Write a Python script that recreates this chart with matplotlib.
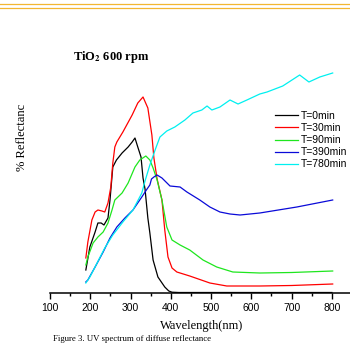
import matplotlib
matplotlib.use('Agg')
import matplotlib.pyplot as plt
from matplotlib.lines import Line2D

# wavelength (nm) / relative reflectance
wl_0 = [189, 199, 212, 219, 227, 234, 244, 249, 256, 265, 279, 294, 304, 311, 318, 326, 331,
        336, 343, 348, 356, 368, 385, 395, 403, 420, 500, 600, 700, 800]
r_0 = [23, 46, 61, 70, 70, 68, 75, 93, 126, 133, 140, 146, 151, 155, 146, 136, 115,
       104, 75, 60, 33, 16, 6, 2, 0.8, 0.5, 0.5, 0.5, 0.5, 0.5]

wl_30 = [189, 194, 204, 212, 219, 229, 236, 244, 251, 256, 261, 266, 281, 304, 318, 331, 343,
         353, 358, 366, 378, 385, 393, 403, 415, 447, 497, 539, 621, 700, 802]
r_30 = [35, 51, 73, 81, 83, 82, 81, 90, 106, 130, 146, 151, 161, 178, 190, 196, 185,
        158, 135, 114, 93, 63, 36, 25, 21, 17, 10, 7, 7, 7.5, 9]

wl_90 = [189, 194, 207, 219, 232, 244, 254, 261, 279, 294, 311, 323, 338, 348, 356, 366, 378,
         390, 403, 423, 447, 480, 514, 554, 621, 700, 802]
r_90 = [28, 36, 50, 56, 61, 70, 83, 93, 100, 110, 126, 133, 137, 133, 125, 113, 93,
        66, 53, 48, 43, 33, 26, 21, 20, 20.5, 22]

wl_390 = [189, 194, 212, 232, 249, 266, 286, 306, 328, 341, 348, 352, 358, 366, 378, 398,
          423, 440, 472, 497, 522, 547, 572, 621, 713, 802]
r_390 = [11, 13, 26, 41, 55, 66, 75, 83, 96, 104, 108, 114, 116, 118, 115, 107,
         106, 101, 93, 86, 81, 79, 78, 80, 86, 93]

wl_780 = [189, 199, 217, 236, 256, 281, 306, 328, 336, 348, 361, 373, 390, 410, 435, 455,
          477, 490, 502, 522, 547, 567, 589, 621, 639, 678, 720, 743, 770, 802]
r_780 = [10, 16, 30, 45, 58, 71, 83, 100, 112, 128, 143, 156, 162, 166, 173, 180,
         183, 187, 183, 186, 193, 189, 193, 199, 201, 207, 218, 211, 216, 220]

series = [
    (wl_0, r_0, 'black', 'T=0min'),
    (wl_30, r_30, '#ff0000', 'T=30min'),
    (wl_90, r_90, '#1ee61e', 'T=90min'),
    (wl_390, r_390, '#0a0ad8', 'T=390min'),
    (wl_780, r_780, '#00f0f0', 'T=780min'),
]

fig = plt.figure(figsize=(3.5, 3.45), dpi=100)
fig.patch.set_facecolor('white')

# two thin gold rules at the top of the page
for yy in (3.5, 7.5):
    fig.add_artist(Line2D([0, 1], [1 - yy / 345, 1 - yy / 345], transform=fig.transFigure,
                          color='#f2b632', lw=0.9))

ax = fig.add_axes([50 / 350, 1 - 293 / 345, 300 / 350, 233 / 345])
for wl, r, c, lab in series:
    ax.plot(wl, r, color=c, lw=0.9, label=lab)

ax.set_xlim(100, 845)
ax.set_ylim(0, 233)
for s in ('top', 'right', 'left'):
    ax.spines[s].set_visible(False)
ax.spines['bottom'].set_linewidth(1.1)
ax.set_yticks([])
ax.set_xticks(range(100, 801, 100))
ax.set_xticks(range(150, 850, 100), minor=True)
ax.tick_params(axis='x', which='major', length=4, width=1, pad=3, labelsize=7.5)
ax.tick_params(axis='x', which='minor', length=2, width=1)
for t in ax.get_xticklabels():
    t.set_fontfamily('Liberation Sans')

leg = ax.legend(loc='upper left', bbox_to_anchor=(275 / 350, 1 - 111 / 345),
                bbox_transform=fig.transFigure, frameon=False, borderpad=0, borderaxespad=0,
                handlelength=2.2, handletextpad=0.3, labelspacing=0.2,
                prop={'family': 'Liberation Sans', 'size': 7.5})

plt.rcParams['mathtext.fontset'] = 'stix'
fig.text(73 / 350, 1 - 57 / 345, r'TiO$_\mathbf{2}$ 600 rpm', family='Liberation Serif',
         weight='bold', fontsize=9, va='center', ha='left')
fig.text(22 / 350, 1 - 137 / 345, '% Reflectanc', family='Liberation Serif', fontsize=9,
         rotation=90, va='center', ha='center')
fig.text(202 / 350, 1 - 326 / 345, 'Wavelength(nm)', family='Liberation Serif', fontsize=9,
         va='center', ha='center')
fig.text(53 / 350, 1 - 339 / 345, 'Figure 3. UV spectrum of diffuse reflectance',
         family='Liberation Serif', fontsize=6.3, va='center', ha='left')

fig.savefig('out.png', dpi=100, facecolor='white')
